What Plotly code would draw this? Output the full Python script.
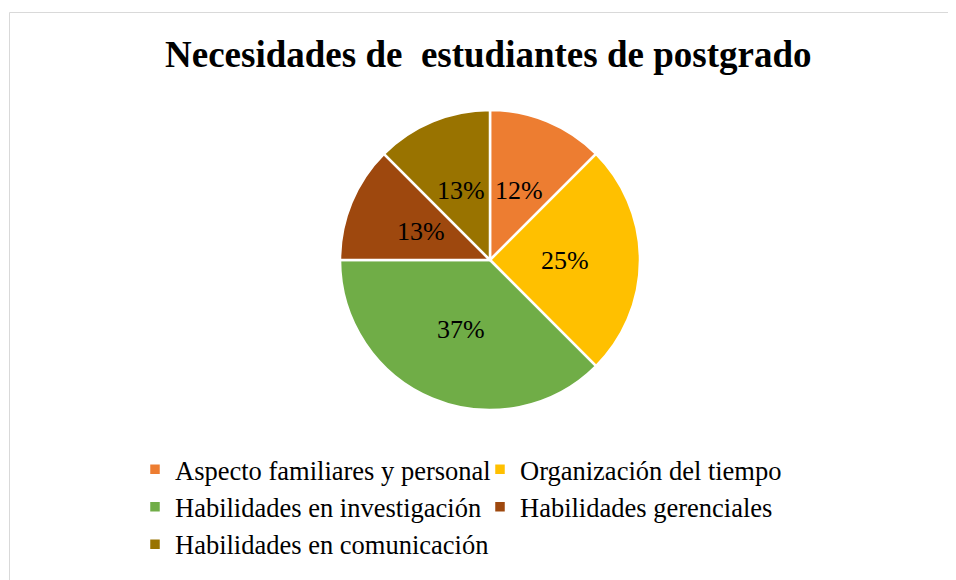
import math
import plotly.graph_objects as go

W, H = 956, 580
OFF = 8  # page body margin offset of the figure inside the browser window

labels = [
    "Aspecto familiares y personal",
    "Organización del tiempo",
    "Habilidades en investigación",
    "Habilidades gerenciales",
    "Habilidades en comunicación",
]
values = [1, 2, 3, 1, 1]
pct_text = ["12%", "25%", "37%", "13%", "13%"]
colors = ["#ED7D31", "#FFC000", "#70AD47", "#9E480E", "#997300"]
title_text = "Necesidades de\u00a0 estudiantes de postgrado"

FONT = "Times New Roman, Liberation Serif, serif"


def px(x):
    return (x - OFF) / W


def py(y):
    return 1 - (y - OFF) / H


# pie geometry (reference page pixels)
CX, CY, R = 490, 260, 150

fig = go.Figure(
    go.Pie(
        labels=labels,
        values=values,
        text=pct_text,
        textinfo="none",
        sort=False,
        direction="clockwise",
        rotation=0,
        marker=dict(colors=colors, line=dict(color="white", width=2.5)),
        domain=dict(x=[px(CX - R), px(CX + R)], y=[py(CY + R), py(CY - R)]),
        hoverinfo="label+percent",
    )
)

# data labels at half radius, at the mid-angle of each slice
annotations = []
total = sum(values)
cum = 0
for v, t in zip(values, pct_text):
    mid = (cum + v / 2) / total * 2 * math.pi
    cum += v
    lx = CX + 0.5 * R * math.sin(mid)
    ly = CY - 0.5 * R * math.cos(mid)
    annotations.append(
        dict(
            text=t,
            xref="paper",
            yref="paper",
            x=px(lx),
            y=py(ly),
            xanchor="center",
            yanchor="middle",
            showarrow=False,
            font=dict(family=FONT, size=26, color="black"),
        )
    )

annotations.append(
    dict(
        text="<b>" + title_text + "</b>",
        xref="paper",
        yref="paper",
        x=px(489),
        y=py(54.5),
        xanchor="center",
        yanchor="middle",
        showarrow=False,
        font=dict(family=FONT, size=37, color="black"),
    )
)

fig.update_layout(
    width=W,
    height=H,
    margin=dict(l=0, r=0, t=0, b=0),
    paper_bgcolor="white",
    plot_bgcolor="white",
    showlegend=True,
    legend=dict(
        orientation="h",
        x=px(135),
        y=py(445.5),
        xanchor="left",
        yanchor="top",
        font=dict(family=FONT, size=26.5, color="black"),
        entrywidthmode="pixels",
        entrywidth=300,
        traceorder="normal",
    ),
    annotations=annotations,
    shapes=[
        dict(
            type="rect",
            xref="paper",
            yref="paper",
            x0=px(9.5),
            x1=1.02,
            y0=-0.05,
            y1=py(12.5),
            line=dict(color="#D9D9D9", width=1),
            fillcolor="rgba(0,0,0,0)",
            layer="below",
        )
    ],
)

fig.write_html("out.html")
